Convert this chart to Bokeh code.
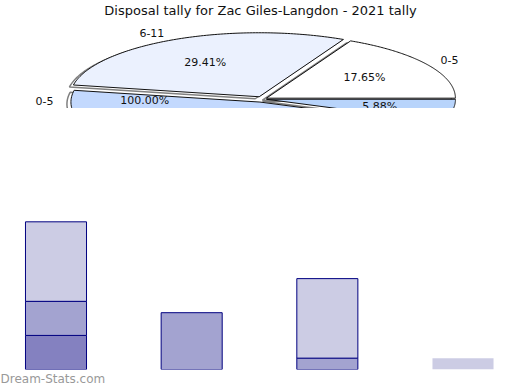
import numpy as np
from bokeh.plotting import figure
from bokeh.models import Range1d, Label, ColumnDataSource, Title
from bokeh.layouts import column
from bokeh.embed import file_html
from bokeh.resources import INLINE
from bokeh.core.properties import value

# ---------------- data ----------------
title_text = "Disposal tally for Zac Giles-Langdon - 2021 tally"
watermark = "Dream-Stats.com"

pie_labels = ["0-5", "6-11", "0-5", "12-17"]
pie_counts = [3, 5, 8, 1]
pie_pct_text = ["17.65%", "29.41%", "100.00%", "5.88%"]
pie_colors = ["#ffffff", "#ebf1fe", "#c3d9fe", "#b8d4fb"]

bar_groups = ["1", "2", "3", "4"]
seg_dark = [3, 0, 0, 0]
seg_mid = [3, 5, 1, 0]
seg_light = [7, 0, 7, 1]
seg_colors = ["#8481c0", "#a3a3d0", "#cccce4"]
bar_outline = ["#000080", "#000080", "#000080", None]

FONT = "DejaVu Sans"

# ---------------- pie (top) ----------------
W = 520
A_PX, B_PX = 189.0, 64.0      # ellipse radii in px
CX, CY = 262.0, 98.5          # ellipse centre in px
H_A = 108
EXPLODE = 4.0
DEPTH_DX, DEPTH_DY = -4.0, 2.0

pa = figure(width=W, height=H_A, output_backend="svg", toolbar_location=None,
            x_range=Range1d(-CX / A_PX, (W - CX) / A_PX),
            y_range=Range1d(-(H_A - CY) / B_PX, CY / B_PX),
            x_axis_location=None, y_axis_location=None, min_border=0)
pa.grid.visible = False
pa.outline_line_color = None

counts = np.array(pie_counts, dtype=float)
fr = counts / counts.sum()
ends = np.cumsum(fr) * 2 * np.pi
starts = ends - fr * 2 * np.pi
mids = (starts + ends) / 2

inner_ang = mids.copy()
outer_ang = mids.copy()
inner_ang[1] += np.deg2rad(1.5)
outer_ang[1] += np.deg2rad(3.4)
inner_ang[2] = np.deg2rad(178.0)
outer_ang[2] = np.deg2rad(178.9)

def offs(m):
    vx, vy = np.cos(m) * A_PX, np.sin(m) * B_PX
    n = np.hypot(vx, vy)
    return EXPLODE * vx / n / A_PX, EXPLODE * vy / n / B_PX

xs, ys, dxs, dys = [], [], [], []
tip = []
for s, e, m in zip(starts, ends, mids):
    ox, oy = offs(m)
    tip.append((ox, oy))
    t = np.linspace(s, e, 120)
    px = np.concatenate([[ox], ox + np.cos(t), [ox]])
    py = np.concatenate([[oy], oy + np.sin(t), [oy]])
    xs.append(list(px)); ys.append(list(py))
    dxs.append(list(px + DEPTH_DX / A_PX)); dys.append(list(py - DEPTH_DY / B_PX))

pa.patches(dxs, dys, fill_color="white", line_color="#808080", line_width=1.5)
pa.patches(xs, ys, fill_color=pie_colors, line_color="#111111", line_width=1)

ymin = -(H_A - CY) / B_PX
lx, ly, lt = [], [], []
for i in range(len(pie_counts)):
    ox, oy = tip[i]
    for r, a, txt in ((0.61, inner_ang[i], pie_pct_text[i]),
                      (1.14, outer_ang[i], pie_labels[i])):
        x = ox + r * np.cos(a)
        y = oy + r * np.sin(a)
        if y + 4 / B_PX > ymin:
            lx.append(x); ly.append(y); lt.append(txt)
pa.text(x=lx, y=ly, text=lt, text_font=value(FONT), text_font_size="11px",
        text_align="center", text_baseline="middle", text_color="#111111")

pa.add_layout(Label(x=(260 - CX) / A_PX, y=(CY - 10) / B_PX, text=title_text,
                    text_font=FONT, text_font_size="13px", text_align="center",
                    text_baseline="middle", text_color="#111111"))

# ---------------- bars (bottom) ----------------
H_B = 390 - H_A
FRAME_B = 261
UNIT = 11.36
SPACING, X0 = 135.67, 55.5

pb = figure(width=W, height=H_B, output_backend="svg", toolbar_location=None,
            x_range=Range1d(-X0 / SPACING, (W - X0) / SPACING),
            y_range=Range1d(0, FRAME_B / UNIT),
            x_axis_location=None, y_axis_location=None,
            min_border=0, min_border_bottom=H_B - FRAME_B)
pb.grid.visible = False
pb.outline_line_color = None

stack = np.array([seg_dark, seg_mid, seg_light], dtype=float)
tops = np.cumsum(stack, axis=0)
bots = tops - stack
bx, bb, bt, bc, bl = [], [], [], [], []
for k in range(stack.shape[0]):
    for i in range(len(bar_groups)):
        if stack[k, i] > 0:
            bx.append(i); bb.append(bots[k, i]); bt.append(tops[k, i])
            bc.append(seg_colors[k]); bl.append(bar_outline[i])
src = ColumnDataSource(dict(x=bx, bottom=bb, top=bt, fill=bc, line=bl))
pb.vbar(x="x", bottom="bottom", top="top", width=0.45, fill_color="fill",
        line_color="line", line_width=1, source=src)

pb.add_layout(Title(text=watermark, align="left", text_font=FONT,
                    text_font_size="12px", text_font_style="normal",
                    text_color="#999999", offset=0, standoff=0), "below")

layout = column(pa, pb, spacing=0)
open("out.html", "w").write(file_html(layout, INLINE))
